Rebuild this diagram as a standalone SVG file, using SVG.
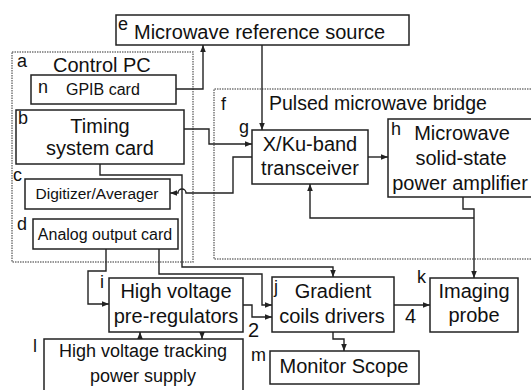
<svg xmlns="http://www.w3.org/2000/svg" width="532" height="390" viewBox="0 0 532 390">
<defs>
<marker id="ah" viewBox="0 0 8 8" refX="8" refY="4" markerWidth="7" markerHeight="7" markerUnits="userSpaceOnUse" orient="auto">
<path d="M0,0.8 L8,4 L0,7.2 z" fill="#222"/>
</marker>
<style>
.box{fill:#fff;stroke:#222;stroke-width:1.5}
.dot{fill:none;stroke:#777;stroke-width:1.5;stroke-dasharray:1.5 1}
.ln{fill:none;stroke:#222;stroke-width:1.4}
.arr{fill:none;stroke:#222;stroke-width:1.4;marker-end:url(#ah)}
text{font-family:"Liberation Sans",Arial,sans-serif;fill:#111}
.lb{font-size:18px}
.t20{font-size:20px}
.t18{font-size:18px}
.t16{font-size:16px}
.mid{text-anchor:middle}
</style>
</defs>
<rect width="532" height="390" fill="#fff"/>

<g id="containers">
<rect id="control-pc-frame" class="dot" x="12" y="52" width="181" height="210"/>
<path id="bridge-frame" class="dot" d="M531,89 H214 V259 H531"/>
</g>

<g id="connectors">
<path class="arr" d="M176,89 H203 V45"/>
<path class="arr" d="M262,45 V130"/>
<path class="arr" d="M184,129 H209 V144 H252"/>
<path class="arr" d="M252,157 H233 V193 H186 A4,4 0 0 0 178,193 H170"/>
<path class="arr" d="M100,164 V175 H182 V267 H333 V277"/>
<path class="arr" d="M106,249 V271 H88 V304 H109"/>
<path class="arr" d="M159,249 V274 H262 V305 H272"/>
<path class="arr" d="M243,305 H252 V317 H272"/>
<path class="arr" d="M140,339 V332"/>
<path class="arr" d="M202,332 V339"/>
<path class="arr" d="M394,305 H430"/>
<path class="arr" d="M333,332 V339 H344 V351"/>
<path class="arr" d="M368,157 H388"/>
<path class="arr" d="M463,197 V209 H474 V278"/>
<path class="arr" d="M474,218 H310 V184"/>
</g>

<g id="a">
<text class="lb" x="17" y="67">a</text>
<text class="t20" x="53" y="72">Control PC</text>
</g>

<g id="e">
<rect class="box" x="116" y="15" width="293" height="30"/>
<text class="lb" x="118" y="30">e</text>
<text class="t20" x="134" y="39">Microwave reference source</text>
</g>

<g id="n">
<rect class="box" x="31" y="75" width="145" height="29"/>
<text class="lb" x="38" y="93">n</text>
<text class="t16" x="66" y="95">GPIB card</text>
</g>

<g id="b">
<rect class="box" x="16" y="110" width="168" height="54"/>
<text class="lb" x="18" y="124">b</text>
<text class="t20 mid" x="100" y="133">Timing</text>
<text class="t20 mid" x="100" y="155">system card</text>
</g>

<g id="c">
<text class="lb" x="13" y="181">c</text>
<rect class="box" x="25" y="179" width="145" height="30"/>
<text class="mid" style="font-size:15.5px" x="97" y="199">Digitizer/Averager</text>
</g>

<g id="d">
<text class="lb" x="17" y="230">d</text>
<rect class="box" x="33" y="219" width="145" height="30"/>
<text class="t16 mid" x="105" y="240">Analog output card</text>
</g>

<g id="f">
<text class="lb" x="221" y="110">f</text>
<text style="font-size:19.5px" x="269" y="110">Pulsed microwave bridge</text>
</g>

<g id="g">
<text class="lb" x="239" y="133">g</text>
<rect class="box" x="252" y="130" width="116" height="54"/>
<text class="t20 mid" x="310" y="151">X/Ku-band</text>
<text class="t20 mid" x="310" y="175">transceiver</text>
</g>

<g id="h">
<path class="box" d="M531,119 H388 V197 H531"/>
<text class="lb" x="391" y="135">h</text>
<text class="t20 mid" x="462" y="140">Microwave</text>
<text class="t20 mid" x="461" y="165">solid-state</text>
<text class="t20 mid" x="460" y="190">power amplifier</text>
</g>

<g id="i">
<text class="lb" x="100" y="288">i</text>
<rect class="box" x="109" y="278" width="134" height="54"/>
<text class="t20 mid" x="176" y="298">High voltage</text>
<text class="t20 mid" x="176" y="323">pre-regulators</text>
</g>

<g id="j">
<rect class="box" x="272" y="277" width="122" height="55"/>
<text class="lb" x="274" y="293">j</text>
<text class="t20 mid" x="333" y="298">Gradient</text>
<text class="t20 mid" x="332" y="323">coils drivers</text>
</g>

<g id="k">
<text class="lb" x="417" y="283">k</text>
<rect class="box" x="430" y="278" width="88" height="54"/>
<text class="t20 mid" x="474" y="298">Imaging</text>
<text class="t20 mid" x="474" y="322">probe</text>
</g>

<g id="m">
<text class="lb" x="251" y="361">m</text>
<rect class="box" x="270" y="351" width="149" height="33"/>
<text class="t20 mid" x="344" y="373">Monitor Scope</text>
</g>

<g id="l">
<text class="lb" x="33" y="352">l</text>
<rect class="box" x="44" y="339" width="199" height="56"/>
<text class="t18 mid" x="143" y="357">High voltage tracking</text>
<text class="t18 mid" x="143" y="382">power supply</text>
</g>

<g id="edge-labels">
<text class="t20" x="248" y="337">2</text>
<text class="t20" x="405" y="323">4</text>
</g>
</svg>
